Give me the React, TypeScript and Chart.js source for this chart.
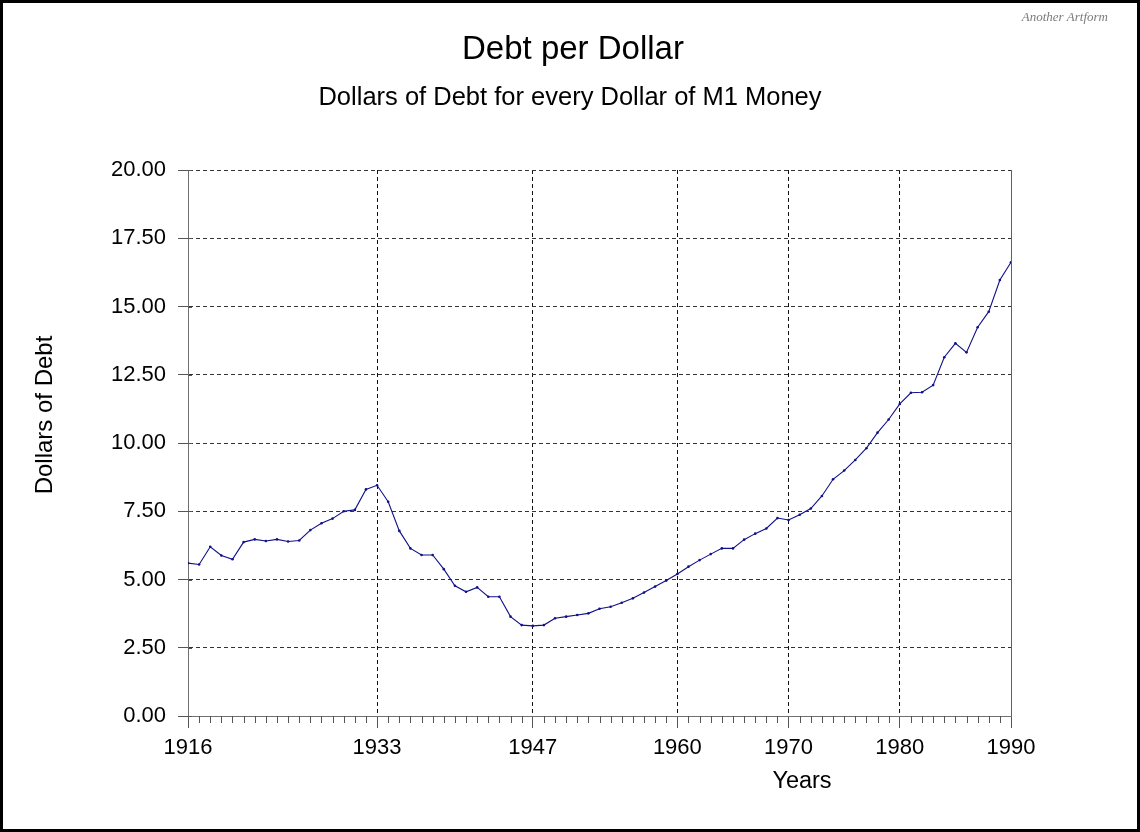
import React, { useEffect, useRef } from "react";
import { Chart, registerables } from "chart.js";

Chart.register(...registerables);

const years = [
  1916, 1917, 1918, 1919, 1920, 1921, 1922, 1923, 1924, 1925,
  1926, 1927, 1928, 1929, 1930, 1931, 1932, 1933, 1934, 1935,
  1936, 1937, 1938, 1939, 1940, 1941, 1942, 1943, 1944, 1945,
  1946, 1947, 1948, 1949, 1950, 1951, 1952, 1953, 1954, 1955,
  1956, 1957, 1958, 1959, 1960, 1961, 1962, 1963, 1964, 1965,
  1966, 1967, 1968, 1969, 1970, 1971, 1972, 1973, 1974, 1975,
  1976, 1977, 1978, 1979, 1980, 1981, 1982, 1983, 1984, 1985,
  1986, 1987, 1988, 1989, 1990,
];

const debtPerDollar = [
  5.6, 5.55, 6.2, 5.88, 5.74, 6.37, 6.47, 6.41, 6.47, 6.39,
  6.43, 6.81, 7.06, 7.23, 7.5, 7.55, 8.3, 8.45, 7.85, 6.78,
  6.14, 5.9, 5.9, 5.38, 4.77, 4.55, 4.71, 4.37, 4.37, 3.64,
  3.33, 3.3, 3.33, 3.58, 3.64, 3.7, 3.76, 3.93, 4.0, 4.15,
  4.31, 4.52, 4.74, 4.96, 5.2, 5.47, 5.71, 5.93, 6.14, 6.14,
  6.46, 6.68, 6.87, 7.25, 7.18, 7.37, 7.6, 8.06, 8.67, 8.99,
  9.38, 9.81, 10.38, 10.86, 11.43, 11.84, 11.86, 12.12, 13.14, 13.65,
  13.32, 14.24, 14.81, 15.97, 16.62,
];

const xTickYears = [1916, 1933, 1947, 1960, 1970, 1980, 1990];
const yMin = 0;
const yMax = 20;
const yStep = 2.5;

const titleText = "Debt per Dollar";
const subtitleText = "Dollars of Debt for every Dollar of M1 Money";
const xTitleText = "Years";
const yTitleText = "Dollars of Debt";
const watermarkText = "Another Artform";

const SANS = "'Liberation Sans', Arial, Helvetica, sans-serif";
const LINE_COLOR = "#10108a";

const decorPlugin = {
  id: "decor",
  afterDraw(chart: any) {
    const { ctx, chartArea } = chart;
    const xs = chart.scales.x;
    const ys = chart.scales.y;
    ctx.save();
    // outer frame
    ctx.strokeStyle = "#000";
    ctx.lineWidth = 3;
    ctx.setLineDash([]);
    ctx.strokeRect(1.5, 1.5, chart.width - 3, chart.height - 3);

    // right border of plot
    ctx.lineWidth = 1;
    ctx.strokeStyle = "#606060";
    ctx.beginPath();
    const rx = Math.round(chartArea.right) + 0.5;
    ctx.moveTo(rx, chartArea.top);
    ctx.lineTo(rx, chartArea.bottom);
    ctx.stroke();

    // minor yearly ticks
    ctx.strokeStyle = "#555";
    ctx.beginPath();
    for (const yr of years) {
      if (xTickYears.includes(yr)) continue;
      const px = Math.round(xs.getPixelForValue(yr)) + 0.5;
      ctx.moveTo(px, chartArea.bottom);
      ctx.lineTo(px, chartArea.bottom + 7);
    }
    // y tick stubs crossing the axis
    for (let v = yMin; v <= yMax; v += yStep) {
      const py = Math.round(ys.getPixelForValue(v)) + 0.5;
      ctx.moveTo(chartArea.left, py);
      ctx.lineTo(chartArea.left + 4, py);
    }
    ctx.stroke();

    // texts
    ctx.fillStyle = "#000";
    ctx.textAlign = "center";
    ctx.textBaseline = "middle";
    ctx.font = `33px ${SANS}`;
    ctx.fillText(titleText, 573, 50);
    ctx.font = `25.5px ${SANS}`;
    ctx.fillText(subtitleText, 570, 98);
    ctx.font = `23.5px ${SANS}`;
    ctx.fillText(xTitleText, 802, 782);
    ctx.save();
    ctx.translate(45, 415);
    ctx.rotate(-Math.PI / 2);
    ctx.font = `24px ${SANS}`;
    ctx.fillText(yTitleText, 0, 0);
    ctx.restore();

    ctx.fillStyle = "#7a7a7a";
    ctx.textAlign = "right";
    ctx.font = `italic 13px 'Liberation Serif', 'DejaVu Serif', serif`;
    ctx.fillText(watermarkText, 1108, 18);
    ctx.restore();
  },
};

export default function App() {
  const canvasRef = useRef<HTMLCanvasElement | null>(null);

  useEffect(() => {
    const canvas = canvasRef.current;
    if (!canvas) return;
    const chart = new Chart(canvas, {
      type: "line",
      data: {
        datasets: [
          {
            label: "Debt per Dollar",
            data: years.map((yr, i) => ({ x: yr, y: debtPerDollar[i] })),
            borderColor: LINE_COLOR,
            backgroundColor: LINE_COLOR,
            borderWidth: 1.1,
            pointRadius: 1.3,
            pointBorderWidth: 0,
            pointBackgroundColor: LINE_COLOR,
            tension: 0,
            fill: false,
          },
        ],
      },
      options: {
        animation: false,
        responsive: false,
        maintainAspectRatio: false,
        layout: { padding: { left: 0, top: 170, right: 129, bottom: 0 } },
        plugins: {
          legend: { display: false },
          title: { display: false },
          tooltip: { enabled: false },
        },
        scales: {
          x: {
            type: "linear",
            min: years[0],
            max: years[years.length - 1],
            afterBuildTicks: (s: any) => {
              s.ticks = xTickYears.map((v) => ({ value: v }));
            },
            afterFit: (s: any) => {
              s.height = 116;
            },
            ticks: {
              autoSkip: false,
              maxRotation: 0,
              padding: 7,
              color: "#000",
              font: { family: SANS, size: 22 },
              callback: (v: any) => String(v),
            },
            grid: {
              color: (c: any) =>
                c.tick && (c.tick.value === xTickYears[0] || c.tick.value === xTickYears[xTickYears.length - 1])
                  ? "rgba(0,0,0,0)"
                  : "#111",
              tickColor: "#555",
              tickLength: 12,
              tickBorderDash: [],
              lineWidth: 1,
            },
            border: { color: "#707070", width: 1, dash: [4, 3] },
          },
          y: {
            type: "linear",
            min: yMin,
            max: yMax,
            afterFit: (s: any) => {
              s.width = 188;
            },
            ticks: {
              stepSize: yStep,
              padding: 12,
              color: "#000",
              font: { family: SANS, size: 22 },
              callback: (v: any) => Number(v).toFixed(2),
            },
            grid: {
              color: (c: any) => (c.tick && c.tick.value === yMin ? "rgba(0,0,0,0)" : "#333"),
              tickColor: "#555",
              tickLength: 10,
              tickBorderDash: [],
              lineWidth: 1,
            },
            border: { color: "#707070", width: 1, dash: [4, 3] },
          },
        },
      },
      plugins: [decorPlugin],
    });
    return () => chart.destroy();
  }, []);

  return (
    <div style={{ position: "fixed", left: 0, top: 0, width: 1140, height: 832, background: "#fff" }}>
      <canvas ref={canvasRef} width={1140} height={832} style={{ display: "block", width: 1140, height: 832 }} />
    </div>
  );
}
